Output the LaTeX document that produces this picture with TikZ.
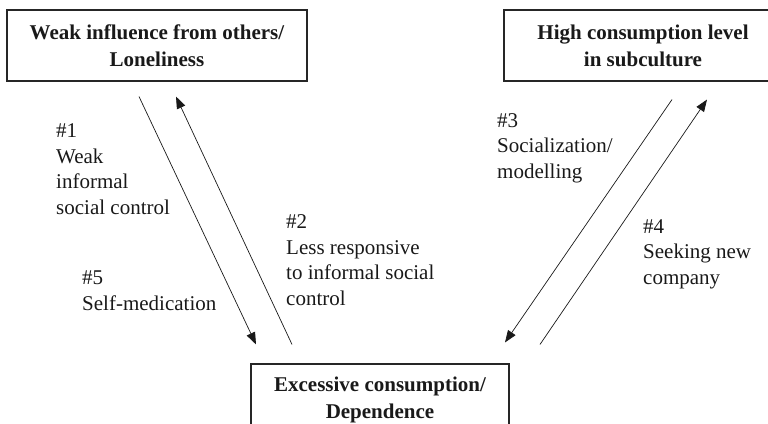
\documentclass[tikz,border=0pt]{standalone}
\usepackage{fontspec}
\setmainfont{Liberation Serif}
\usetikzlibrary{arrows.meta}

\begin{document}
\begin{tikzpicture}[x=1pt,y=-1pt,
        box/.style={draw=black!85,rectangle,line width=1.1pt,inner sep=0pt,minimum height=71pt,align=center,text=black!90,font=\fontsize{21}{27}\selectfont\bfseries},
        lbl/.style={anchor=base west,align=left,inner sep=0pt,text=black!90,font=\fontsize{21}{25.5}\selectfont},
        arr/.style={draw=black!90,line width=0.7pt,-{Triangle[length=12pt,width=9pt]}}
      ]
      \useasboundingbox (0,0) rectangle (768,423);
      \node[box,minimum width=300pt] (weak) at (157,45.5) {Weak influence from others/\\Loneliness};
      \node[box,minimum width=278pt] (high) at (643,45.5) {High consumption level\\in subculture};
      \node[box,minimum width=258pt] (dep) at (380,399.5) {Excessive consumption/\\Dependence};
      % base of a multi-line label is its last line
      \node[lbl] (l1) at (56,214) {\#1\\Weak\\informal\\social control};
      \node[lbl] (l2) at (286,305) {\#2\\Less responsive\\to informal social\\control};
      \node[lbl] (l3) at (497,178) {\#3\\Socialization/\\modelling};
      \node[lbl] (l4) at (643,284) {\#4\\Seeking new\\company};
      \node[lbl] (l5) at (82,310) {\#5\\Self-medication};
      \draw[arr] ([xshift=-18pt,yshift=-15pt]weak.south) -- ([xshift=-124pt,yshift=19pt]dep.north);
      \draw[arr] ([xshift=-88pt,yshift=19pt]dep.north) -- ([xshift=19pt,yshift=-15pt]weak.south);
      \draw[arr] ([xshift=29pt,yshift=-18pt]high.south) -- ([xshift=125pt,yshift=21pt]dep.north);
      \draw[arr] ([xshift=160pt,yshift=19pt]dep.north) -- ([xshift=64pt,yshift=-18pt]high.south);
    \end{tikzpicture}
\end{document}
